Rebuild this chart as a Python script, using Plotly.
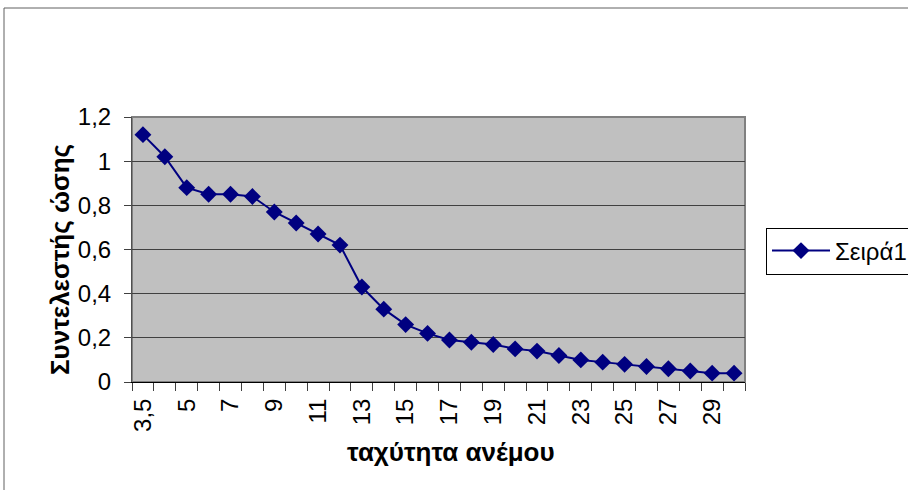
import plotly.graph_objects as go

categories = ["3,5", "4", "5", "6", "7", "8", "9", "10", "11", "12", "13", "14", "15",
              "16", "17", "18", "19", "20", "21", "22", "23", "24", "25", "26", "27",
              "28", "29", "30"]
values = [1.12, 1.02, 0.88, 0.85, 0.85, 0.84, 0.77, 0.72, 0.67, 0.62, 0.43, 0.33, 0.26,
          0.22, 0.19, 0.18, 0.17, 0.15, 0.14, 0.12, 0.10, 0.09, 0.08, 0.07, 0.06,
          0.05, 0.04, 0.04]
tick_labels = ["3,5", "", "5", "", "7", "", "9", "", "11", "", "13", "", "15",
               "", "17", "", "19", "", "21", "", "23", "", "25", "", "27",
               "", "29", ""]
y_ticks = [0, 0.2, 0.4, 0.6, 0.8, 1.0, 1.2]
series_name = "Σειρά1"
x_title = "ταχύτητα ανέμου"
y_title = "Συντελεστής ώσης"

FONT = "Liberation Sans, Arial, sans-serif"
NAVY = "#000080"

fig = go.Figure()
fig.add_trace(go.Scatter(
    x=categories, y=values, name=series_name, mode="lines+markers",
    line=dict(color=NAVY, width=2),
    marker=dict(symbol="diamond", size=13, color=NAVY),
))

L, R, T, B = 132, 163, 117, 108
W, H = 908, 490
pw, ph = W - L - R, H - T - B

fig.update_layout(
    width=W, height=H,
    margin=dict(l=L, r=R, t=T, b=B, autoexpand=False),
    paper_bgcolor="white", plot_bgcolor="#C0C0C0",
    separators=",.",
    font=dict(family=FONT, size=24, color="black"),
    showlegend=True,
    legend=dict(
        x=(766 - L) / pw, xanchor="left",
        y=(H - B - 251) / ph, yanchor="middle",
        bordercolor="black", borderwidth=1, bgcolor="white",
        font=dict(family=FONT, size=24, color="black"),
        itemwidth=58,
    ),
    xaxis=dict(
        type="category", categoryorder="array", categoryarray=categories,
        tickvals=categories, ticktext=tick_labels,
        tickson="boundaries", ticks="outside", ticklen=8, tickcolor="#404040",
        tickangle=-90, showgrid=False, zeroline=False,
        showline=True, linecolor="black", linewidth=1,
        tickfont=dict(family=FONT, size=24, color="black"),
        ticklabelstandoff=6,
        range=[-0.5, len(categories) - 0.5],
    ),
    yaxis=dict(
        range=[0, 1.2], tickvals=y_ticks,
        ticks="outside", ticklen=7, tickcolor="#404040",
        showgrid=True, gridcolor="#404040", gridwidth=1,
        zeroline=False, showline=True, linecolor="#505050", linewidth=1,
        tickfont=dict(family=FONT, size=24, color="black"),
        ticklabelstandoff=8,
    ),
    annotations=[
        dict(text=f"<b>{x_title}</b>", xref="paper", yref="paper",
             x=(451 - L) / pw, y=(H - B - 452) / ph, xanchor="center", yanchor="middle",
             showarrow=False, font=dict(family=FONT, size=26, color="black")),
        dict(text=f"<b>{y_title}</b>", xref="paper", yref="paper",
             x=(60 - L) / pw, y=(H - B - 260) / ph, xanchor="center", yanchor="middle",
             textangle=-90, showarrow=False, font=dict(family=FONT, size=26, color="black")),
    ],
    shapes=[
        dict(type="rect", xref="paper", yref="paper", x0=0, x1=1, y0=0, y1=1,
             line=dict(color="#808080", width=2), layer="below"),
        dict(type="rect", xref="paper", yref="paper",
             x0=(4 - L) / pw, x1=2, y0=-1, y1=(H - B - 8) / ph,
             line=dict(color="#606060", width=1), fillcolor="rgba(0,0,0,0)", layer="below"),
    ],
)

fig.write_html("out.html")
